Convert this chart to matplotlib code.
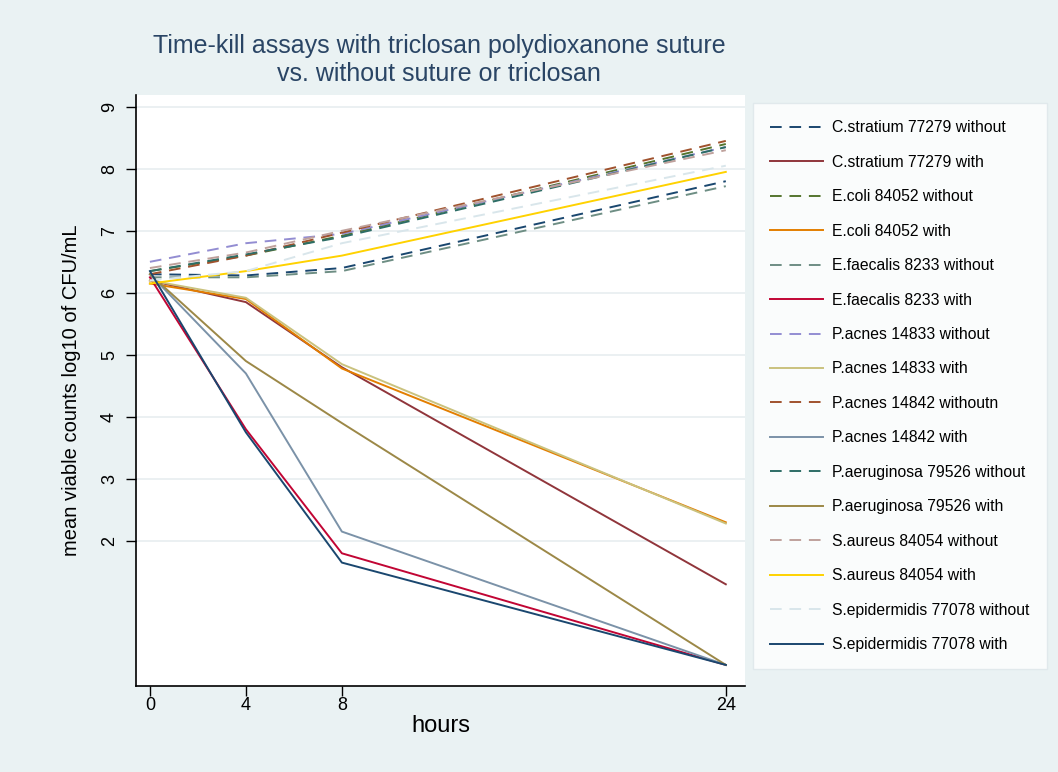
import matplotlib
matplotlib.use("Agg")
import matplotlib.pyplot as plt

plt.rcParams['font.family'] = ['Liberation Sans', 'DejaVu Sans']

# time points (hours)
hours = [0, 4, 8, 24]

# series labels, in legend order
labels = [
    "C.stratium 77279 without", "C.stratium 77279 with",
    "E.coli 84052 without", "E.coli 84052 with",
    "E.faecalis 8233 without", "E.faecalis 8233 with",
    "P.acnes 14833 without", "P.acnes 14833 with",
    "P.acnes 14842 withoutn", "P.acnes 14842 with",
    "P.aeruginosa 79526 without", "P.aeruginosa 79526 with",
    "S.aureus 84054 without", "S.aureus 84054 with",
    "S.epidermidis 77078 without", "S.epidermidis 77078 with",
]

# mean viable counts (log10 CFU/mL) at 0, 4, 8, 24 h
c_stratium_without = [6.30, 6.28, 6.40, 7.80]
c_stratium_with = [6.20, 5.85, 4.80, 1.30]
e_coli_without = [6.35, 6.60, 6.92, 8.40]
e_coli_with = [6.15, 5.90, 4.78, 2.30]
e_faecalis_without = [6.25, 6.25, 6.35, 7.72]
e_faecalis_with = [6.25, 3.80, 1.80, 0.0]
p_acnes_14833_without = [6.50, 6.80, 6.95, 8.35]
p_acnes_14833_with = [6.20, 5.92, 4.85, 2.28]
p_acnes_14842_without = [6.30, 6.60, 6.97, 8.45]
p_acnes_14842_with = [6.30, 4.70, 2.15, 0.0]
p_aeruginosa_without = [6.35, 6.62, 6.90, 8.35]
p_aeruginosa_with = [6.30, 4.90, 3.90, 0.0]
s_aureus_without = [6.40, 6.65, 7.00, 8.30]
s_aureus_with = [6.15, 6.35, 6.60, 7.95]
s_epidermidis_without = [6.20, 6.35, 6.80, 8.05]
s_epidermidis_with = [6.35, 3.75, 1.65, 0.0]

series = [
    c_stratium_without, c_stratium_with,
    e_coli_without, e_coli_with,
    e_faecalis_without, e_faecalis_with,
    p_acnes_14833_without, p_acnes_14833_with,
    p_acnes_14842_without, p_acnes_14842_with,
    p_aeruginosa_without, p_aeruginosa_with,
    s_aureus_without, s_aureus_with,
    s_epidermidis_without, s_epidermidis_with,
]

# stata s2color palette
colors = ['#1a476f', '#90353b', '#55752f', '#e37e00', '#6e8e84', '#c10534',
          '#938dd2', '#cac27e', '#a0522d', '#7b92a8', '#2d6d66', '#9c8847',
          '#bfa19c', '#ffd200', '#d9e6eb', '#1a476f']

bg = '#eaf2f3'
fig = plt.figure(figsize=(10.58, 7.72), dpi=100, facecolor=bg)
ax = fig.add_axes([136/1058, 1-686/772, (745-136)/1058, (686-95)/772])
ax.set_facecolor('white')

for i, (lab, vals) in enumerate(zip(labels, series)):
    ls = (0, (6, 4)) if i % 2 == 0 else '-'
    ax.plot(hours, vals, color=colors[i], lw=1.4, linestyle=ls, label=lab)

ax.set_xlim(-0.58, 24.8)
ax.set_ylim(-0.34, 9.19)
ax.set_xticks(hours)
ax.set_yticks(range(2, 10))
ax.tick_params(axis='both', labelsize=13, length=7, width=1, color='black')
ax.tick_params(axis='x', pad=1)
ax.tick_params(axis='y', pad=6)
for t in ax.get_yticklabels():
    t.set_rotation(90)
    t.set_va('center')
ax.grid(axis='y', color='#e8eef0', lw=1.2)
ax.set_axisbelow(True)
for s in ['top', 'right']:
    ax.spines[s].set_visible(False)
for s in ['left', 'bottom']:
    ax.spines[s].set_linewidth(1.2)

ax.set_xlabel('hours', fontsize=17, labelpad=1)
ax.set_ylabel('mean viable counts log10 of CFU/mL', fontsize=14.5, labelpad=14)

fig.text(0.415, 1-60/772, 'Time-kill assays with triclosan polydioxanone suture\nvs. without suture or triclosan',
         ha='center', va='center', fontsize=18, color='#2a4565', linespacing=1.2)

leg = fig.legend(loc='upper left', bbox_to_anchor=(753/1058, 1-103/772), fontsize=11.3,
                 handlelength=3.35, handletextpad=0.6, labelspacing=1.24, borderpad=1.1,
                 borderaxespad=0, fancybox=False, frameon=True)
leg.get_frame().set_edgecolor('#dde6ea')
leg.get_frame().set_linewidth(1)

fig.savefig('out.png', dpi=100, facecolor=bg)
